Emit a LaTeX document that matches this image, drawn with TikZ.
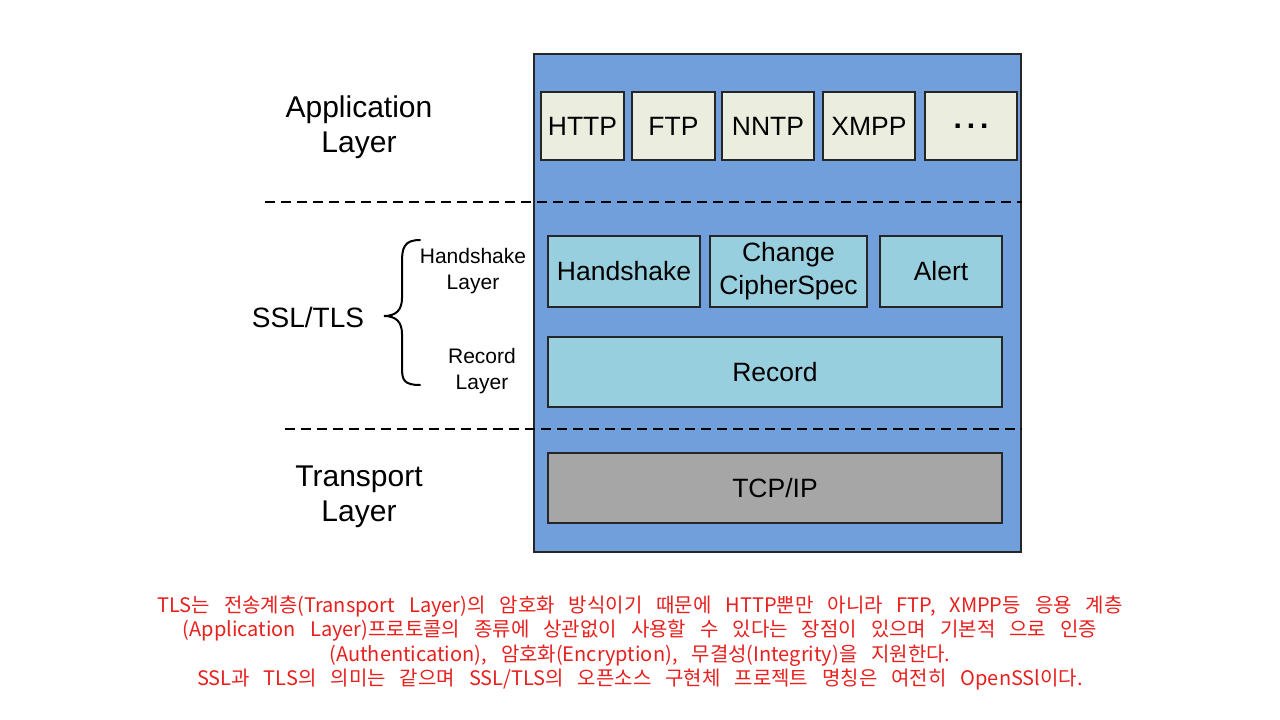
\documentclass[tikz,border=0pt]{standalone}
\usepackage{fontspec}
\setmainfont{Liberation Sans}
\newfontfamily\kr{Noto Sans CJK KR}
\newcommand\widesp{\spaceskip=14pt\relax}
\definecolor{outerblue}{HTML}{719FDB}
\definecolor{appfill}{HTML}{EBEEDF}
\definecolor{sslfill}{HTML}{98CFDE}
\definecolor{tcpfill}{HTML}{A6A6A6}
\definecolor{note}{HTML}{E8201E}
\begin{document}
\begin{tikzpicture}[x=1pt,y=-1pt,
  box/.style={draw=black!85,line width=2.2pt,inner sep=0pt,font=\fontsize{26.5}{33}\selectfont,align=center},
  appbox/.style={box,fill=appfill},
  sslbox/.style={box,fill=sslfill},
  tcpbox/.style={box,fill=tcpfill},
  layerlabel/.style={font=\fontsize{30}{35}\selectfont,align=center},
  sublabel/.style={font=\fontsize{21}{25.5}\selectfont,align=center},
  sep/.style={line width=1.4pt,dash pattern=on 10pt off 6pt}]
\useasboundingbox (0,0) rectangle (1280,720);
\fill[white] (0,0) rectangle (1280,720);
% outer container
\node[draw=black!85,line width=2.2pt,fill=outerblue,minimum width=487pt,minimum height=498pt,inner sep=0pt] (outer) at (777.5,303) {};
% separators
\coordinate (s1l) at (265,202);
\coordinate (s2l) at (285,429);
\draw[sep] (s1l) -- (s1l -| outer.east);
\draw[sep] (s2l) -- (s2l -| outer.east);
% application boxes
\node[appbox,minimum width=83pt,minimum height=68pt] (http) at (582.5,126) {HTTP};
\node[appbox,minimum width=83pt,minimum height=68pt] (ftp) at (673.5,126) {FTP};
\node[appbox,minimum width=92pt,minimum height=68pt] (nntp) at (768,126) {NNTP};
\node[appbox,minimum width=92pt,minimum height=68pt] (xmpp) at (869,126) {XMPP};
\node[appbox,minimum width=92pt,minimum height=68pt,font=\fontsize{30}{30}\selectfont\bfseries] (more) at (971,126) {.\,.\,.};
% SSL/TLS boxes
\node[sslbox,minimum width=152pt,minimum height=71pt] (hs) at (624,271.5) {Handshake};
\node[sslbox,minimum width=157pt,minimum height=71pt] (ccs) at (788.5,271.5) {Change\\CipherSpec};
\node[sslbox,minimum width=122pt,minimum height=71pt] (alert) at (941,271.5) {Alert};
\node[sslbox,minimum width=454pt,minimum height=70pt] (rec) at (775,372) {Record};
% transport
\node[tcpbox,minimum width=454pt,minimum height=70pt] (tcp) at (775,488) {TCP/IP};
% left labels
\node[layerlabel] (appl) at (359,127) {Application\\Layer};
\node[layerlabel,font=\fontsize{28}{35}\selectfont] (ssl) at (308,317) {SSL/TLS};
\node[layerlabel] (trl) at (359,497) {Transport\\Layer};
\node[sublabel] (hsl) at (473,271) {Handshake\\Layer};
\node[sublabel] (recl) at (482,371) {Record\\Layer};
% brace
\coordinate (bt) at (420,240);
\coordinate (bb) at (420,385);
\draw[line width=2pt,line cap=round] (bt) .. controls (404,240) and (402,248) .. (402,262) -- (402,298) .. controls (402,310) and (396,316) .. (384,316) .. controls (396,316) and (402,322) .. (402,334) -- (402,368) .. controls (402,380) and (404,385) .. (bb);
% note
\node[text=note,font=\kr\fontsize{20}{24.5}\selectfont,align=center] (txt) at (640,643) {\widesp TLS는 전송계층(Transport Layer)의 암호화 방식이기 때문에 HTTP뿐만 아니라 FTP, XMPP등 응용 계층\\\widesp (Application Layer)프로토콜의 종류에 상관없이 사용할 수 있다는 장점이 있으며 기본적 으로 인증\\\widesp (Authentication), 암호화(Encryption), 무결성(Integrity)을 지원한다.\\\widesp SSL과 TLS의 의미는 같으며 SSL/TLS의 오픈소스 구현체 프로젝트 명칭은 여전히 OpenSSl이다.};
\end{tikzpicture}
\end{document}
